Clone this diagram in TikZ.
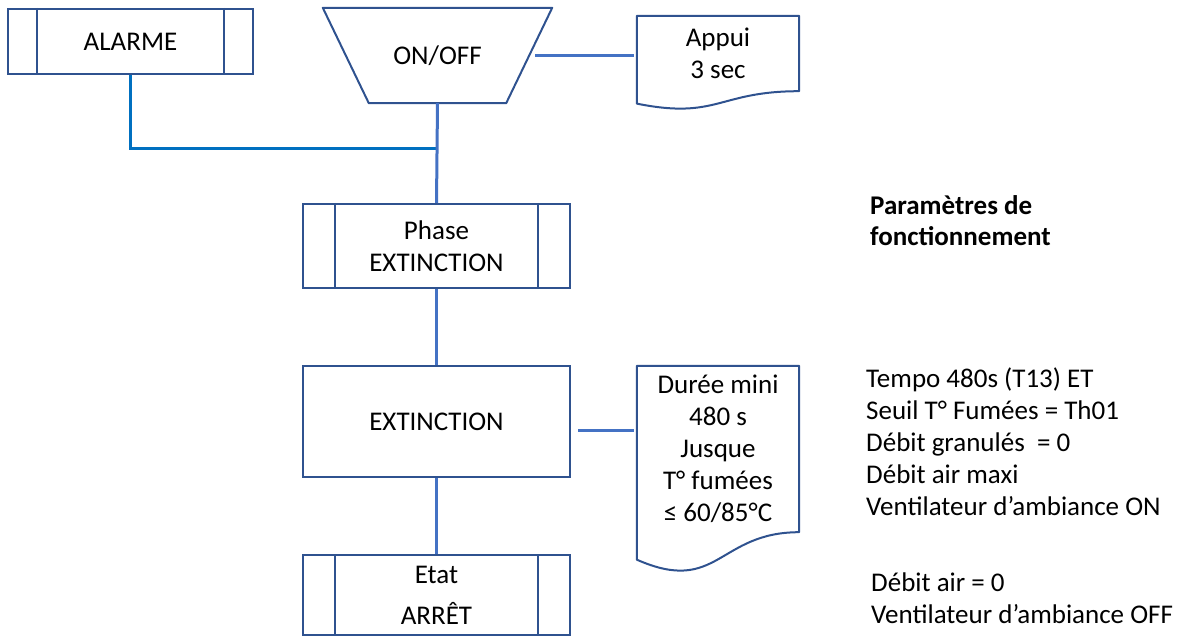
\documentclass[tikz,border=0pt]{standalone}
\usepackage{fontspec}
\setmainfont{Carlito}
\usetikzlibrary{calc,positioning}
\definecolor{boxBlue}{RGB}{47,82,143}
\definecolor{lineBlue}{RGB}{68,114,196}
\definecolor{alarmBlue}{RGB}{0,112,192}
\newcommand{\SubLines}[2]{%
  \draw[boxBlue,line width=2pt] ([xshift=#2]#1.north west) -- ([xshift=#2]#1.south west);
  \draw[boxBlue,line width=2pt] ([xshift=-#2]#1.north east) -- ([xshift=-#2]#1.south east);}
\newcommand{\DocOutline}[1]{%
  \draw[boxBlue,line width=2pt,line join=round] (#1.north west) -- (#1.north east) -- (#1.south east)
    .. controls (#1.south) and ($(#1.north)!1.38!(#1.south)$) .. ($(#1.north west)!1.165!(#1.south west)$) -- cycle;}
\newcommand{\InputOutline}[2]{%
  \draw[boxBlue,line width=2pt,line join=round] (#1.north west) -- (#1.north east)
    -- ([xshift=-#2]#1.south east) -- ([xshift=#2]#1.south west) -- cycle;}

\begin{document}
\begin{tikzpicture}[x=1pt,y=-1pt,
  procbox/.style={draw=boxBlue,line width=2pt,rectangle,align=center,inner sep=0pt,font=\fontsize{27}{32}\selectfont},
  inbox/.style={rectangle,inner sep=0pt,font=\fontsize{27}{32}\selectfont},
  docbox/.style={rectangle,align=center,inner sep=0pt,minimum width=162pt,font=\fontsize{27}{32}\selectfont},
  conn/.style={lineBlue,line width=3pt},
  info/.style={align=left,anchor=north west,inner sep=0pt,font=\fontsize{27}{32}\selectfont}]
\useasboundingbox (0,0) rectangle (1180,636);

% entrees
\node[procbox,minimum width=245pt,minimum height=65pt] (alarme) at (130.5,41.5) {ALARME};
\SubLines{alarme}{30pt}
\node[inbox,minimum width=229pt,minimum height=95pt] (onoff) at (437.5,55.5) {ON/OFF};
\InputOutline{onoff}{46pt}
\node[docbox,minimum height=75pt] (appui) at (718,53.5) {Appui\\3 sec};
\DocOutline{appui}
\draw[conn] ([xshift=-17pt,yshift=-0.5pt]onoff.east) -- ([xshift=-3pt,yshift=-0.5pt]onoff.east -| appui.west);
\coordinate (join) at (437,149);
\draw[alarmBlue,line width=3pt] (alarme.south) |- (join);

% sequence
\node[procbox,minimum width=267pt,minimum height=84pt] (phase) at (436.5,246) {Phase\\EXTINCTION};
\SubLines{phase}{33pt}
\node[procbox,minimum width=267pt,minimum height=111pt] (ext) at (436.5,421.5) {EXTINCTION};
\node[docbox,minimum height=166pt] (duree) at (718,449) {Durée mini\\480 s\\Jusque\\T° fumées\\≤ 60/85°C};
\DocOutline{duree}
\node[procbox,minimum width=267pt,minimum height=80pt] (etat) at (436.5,595) {Etat\\[9pt]ARRÊT};
\SubLines{etat}{33pt}

\draw[conn] (onoff.south) -- (phase.north);
\draw[conn] (phase.south) -- (ext.north);
\draw[conn] (ext.south) -- (etat.north);
\draw[conn] ([xshift=7pt,yshift=-8.5pt]ext.east) coordinate (extout) -- ([xshift=-3pt]extout -| duree.west);

% parametres
\node[info,font=\bfseries\fontsize{27}{31}\selectfont] (titre) at (870,195) {Paramètres de\\fonctionnement};
\node[info] (params) at (866,368) {Tempo 480s (T13) ET\\Seuil T° Fumées = Th01\\Débit granulés~ = 0\\Débit air maxi\\Ventilateur d’ambiance ON};
\node[info] (arret) at (871,573) {Débit air = 0\\Ventilateur d’ambiance OFF};
\end{tikzpicture}
\end{document}
